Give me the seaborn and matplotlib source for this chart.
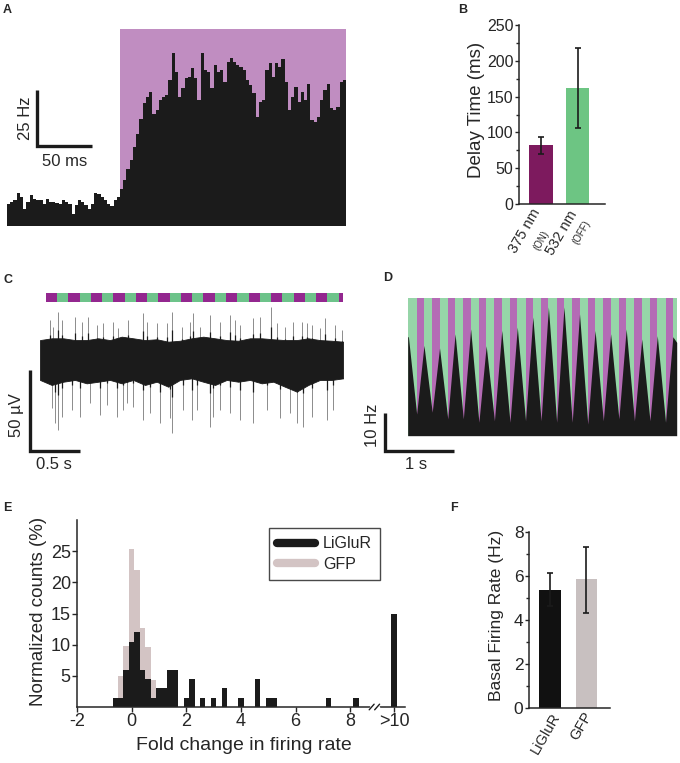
import numpy as np
import pandas as pd
import matplotlib
matplotlib.use("Agg")
import matplotlib.pyplot as plt
import seaborn as sns
from matplotlib.lines import Line2D

# ---------------- data ----------------
# A: PSTH (Hz), bin width in ms; light onset at t = 0
psth_bin_ms = 2.9
psth_pre_hz = [10.0, 10.7, 11.8, 14.7, 12.9, 7.7, 10.7, 13.7, 12.2, 11.8, 11.8, 10.0,
               12.2, 10.7, 10.7, 10.3, 9.7, 11.5, 10.7, 10.0, 5.5, 9.2, 11.8, 10.7,
               9.2, 7.7, 10.0, 14.7, 14.4, 12.9, 11.5, 9.7, 8.8, 11.8, 12.9]
psth_post_hz = [16.7, 20.4, 25.6, 29.3, 35.3, 41.2, 47.9, 54.6, 57.6, 59.8,
                50.1, 51.6, 56.1, 57.6, 58.3, 65.0, 76.9, 68.8, 57.6, 61.3,
                65.8, 66.5, 70.2, 65.8, 56.1, 76.9, 69.5, 68.8, 61.3, 71.7,
                68.8, 69.5, 64.3, 73.2, 74.7, 73.2, 71.7, 71.0, 69.5, 65.0,
                62.8, 59.1, 48.7, 55.4, 56.1, 69.5, 72.5, 66.5, 72.5, 71.0,
                74.3, 64.3, 51.6, 57.6, 62.1, 55.4, 59.8, 56.1, 63.5, 47.2,
                46.4, 48.7, 56.1, 60.6, 63.5, 52.4, 51.6, 53.1, 64.3, 65.0]

# B: delay time
delay_labels = ["375 nm", "532 nm"]
delay_sub = ["(ON)", "(OFF)"]
delay_mean = [82, 162]
delay_lo = [70, 106]
delay_hi = [93, 218]

# C: extracellular trace (envelope of the dense trace + individual spikes)
env_t = [0.0, 0.117, 0.233, 0.35, 0.467, 0.583, 0.70, 0.817, 0.933, 1.05, 1.167, 1.283,
         1.40, 1.517, 1.633, 1.75, 1.867, 1.983, 2.10, 2.217, 2.333, 2.45, 2.567, 2.683,
         2.80, 2.917, 3.033]
env_hi = [12.3, 13.4, 13.4, 12.3, 12.3, 13.4, 12.3, 14.4, 13.4, 12.3, 12.8, 11.3,
          11.9, 13.4, 14.4, 13.4, 12.3, 11.9, 13.4, 13.4, 12.8, 12.3, 12.3, 13.4,
          12.3, 11.9, 11.3]
env_lo = [-12.3, -15.4, -13.4, -12.3, -14.4, -13.4, -12.3, -14.4, -12.3, -15.4, -13.4, -16.5,
          -12.3, -11.3, -13.4, -15.4, -12.3, -13.4, -12.3, -14.4, -13.4, -16.5, -19.5, -15.4,
          -12.3, -12.3, -11.3]
spk_up_t = [0.10, 0.133, 0.183, 0.217, 0.35, 0.417, 0.483, 0.567, 0.633, 0.733, 0.783, 0.883,
            1.033, 1.067, 1.167, 1.267, 1.317, 1.417, 1.50, 1.533, 1.60, 1.70, 1.80, 1.90,
            1.95, 2.00, 2.133, 2.20, 2.307, 2.367, 2.45, 2.533, 2.617, 2.667, 2.717, 2.80,
            2.85, 2.95, 3.017]
spk_up_uv = [24.7, 20.6, 29.8, 24.7, 26.7, 23.7, 26.7, 21.6, 22.6, 23.7, 19.5, 24.7,
             28.8, 23.7, 22.6, 22.6, 29.8, 20.6, 23.7, 28.8, 20.6, 27.8, 23.7, 27.8,
             24.7, 21.6, 25.7, 26.7, 32.9, 22.6, 20.6, 23.7, 23.7, 22.6, 21.6, 19.5,
             25.7, 21.6, 18.5]
spk_dn_t = [0.117, 0.15, 0.183, 0.217, 0.317, 0.40, 0.50, 0.60, 0.667, 0.767, 0.833, 0.867,
            0.933, 1.033, 1.10, 1.20, 1.30, 1.317, 1.433, 1.517, 1.567, 1.70, 1.733, 1.80,
            1.90, 2.00, 2.133, 2.267, 2.40, 2.50, 2.567, 2.633, 2.717, 2.867, 2.933, 3.033]
spk_dn_uv = [-29.8, -39.1, -43.2, -35.0, -30.9, -35.0, -26.7, -34.0, -27.8, -35.0, -30.9, -26.7,
             -28.8, -37.0, -32.9, -39.1, -36.0, -45.3, -30.9, -37.0, -30.9, -41.2, -35.0, -30.9,
             -32.9, -37.0, -39.1, -30.9, -36.0, -32.9, -39.1, -41.2, -35.0, -37.0, -30.9, -18.5]
c_stim_start = 0.057   # s
c_stim_half = 0.1127   # s, each colour segment
c_n_segments = 27

# D: light-driven PSTH (Hz)
d_on_first = 0.130
d_period = 0.2255
d_on_dur = 0.106
d_n_cycles = 17
d_t_end = 3.90
d_peak_hz = [26.5, 24.2, 23.5, 27.3, 28.6, 24.1, 28.2, 29.1, 31.8, 34.5, 34.5, 32.6,
             28.2, 27.3, 28.6, 25.9, 26.8, 26.5]
d_trough_hz = [5.8, 6.3, 4.5, 4.5, 3.6, 4.0, 3.6, 4.0, 4.0, 3.6, 3.6, 3.1, 4.0, 4.5,
               4.0, 4.0, 3.6]
d_end_hz = 25.0

# E: histogram of fold change (bin width 0.2)
lig_centers = [-0.6, -0.4, -0.2, 0.0, 0.2, 0.4, 0.6, 0.8, 1.0, 1.2, 1.4, 1.6, 2.0, 2.2,
               2.6, 3.0, 3.4, 4.0, 4.6, 5.0, 5.2, 7.2, 8.2, 9.6]
lig_pct = [1.5, 1.5, 6.0, 10.5, 12.0, 6.0, 4.5, 1.5, 3.0, 3.0, 6.0, 6.0, 1.5, 4.5,
           1.5, 1.5, 3.0, 1.5, 4.5, 1.5, 1.5, 1.5, 1.5, 15.0]
gfp_centers = [-0.4, -0.2, 0.0, 0.2, 0.4, 0.6, 0.8]
gfp_pct = [5.0, 9.8, 25.3, 22.0, 12.7, 9.6, 4.4]
e_xticks = [-2, 0, 2, 4, 6, 8, 9.6]
e_xticklabels = ["-2", "0", "2", "4", "6", "8", ">10"]

# F: basal firing rate
basal_labels = ["LiGluR", "GFP"]
basal_mean = [5.35, 5.83]
basal_lo = [4.64, 4.29]
basal_hi = [6.11, 7.29]

# ---------------- style ----------------
sns.set_theme(style="ticks")
plt.rcParams['font.family'] = ['Liberation Sans', 'DejaVu Sans']
plt.rcParams['axes.linewidth'] = 1.1
plt.rcParams['xtick.major.width'] = 1.0
plt.rcParams['ytick.major.width'] = 1.0

W, H = 680, 763
fig = plt.figure(figsize=(6.8, 7.63), dpi=100)


def ax_px(l, t, r, b):
    return fig.add_axes([l / W, 1 - b / H, (r - l) / W, (b - t) / H])


def P(x, y):
    return x / W, 1 - y / H


BLACK = "#1b1b1b"
# panel letters
for lab, (x, y) in zip("ABCDEF", [(3, 4), (458, 4), (3, 274), (383, 272), (3, 502), (450, 502)]):
    fig.text(*P(x, y), lab, fontsize=9, fontweight="bold", ha="left", va="top")

# ---------------- A ----------------
axA = ax_px(7, 29, 346, 226)
n_pre = len(psth_pre_hz)
rates = psth_pre_hz + psth_post_hz
edges = (np.arange(len(rates) + 1) - n_pre) * psth_bin_ms
centers = (edges[:-1] + edges[1:]) / 2
dfA = pd.DataFrame({"t": centers, "rate": rates})
axA.axvspan(0, edges[-1], color="#C08DC1", lw=0, zorder=0)
sns.histplot(data=dfA, x="t", weights="rate", bins=list(edges), element="step", fill=True,
             color=BLACK, alpha=1, linewidth=0, ax=axA, zorder=2)
axA.set_xlim(edges[0], edges[-1])
axA.set_ylim(0, 87.8)
axA.plot([-75, -75, -25], [60.6, 35.6, 35.6], color=BLACK, lw=2.4,
         solid_joinstyle="miter", solid_capstyle="butt", clip_on=False, zorder=3)
axA.set_axis_off()
fig.text(*P(25, 118), "25 Hz", rotation=90, ha="center", va="center", fontsize=12)
fig.text(*P(65, 161), "50 ms", ha="center", va="center", fontsize=12)

# ---------------- B ----------------
axB = ax_px(519, 25, 605, 204)
sns.barplot(x=delay_labels, y=delay_mean, hue=delay_labels, palette=["#7D1A5E", "#6DC583"],
            width=0.65, saturation=1, legend=False, ax=axB, linewidth=0)
dm = np.array(delay_mean)
axB.errorbar([0, 1], dm, yerr=[dm - np.array(delay_lo), np.array(delay_hi) - dm],
             fmt="none", ecolor=BLACK, elinewidth=1.2, capsize=2.5, capthick=1.2)
axB.set_xlim(-0.6, 1.75)
axB.set_ylim(0, 250)
axB.set_yticks(np.arange(0, 251, 50))
axB.set_yticks(np.arange(25, 250, 50), minor=True)
axB.tick_params(axis="y", which="major", length=3, labelsize=11.5, pad=1)
axB.tick_params(axis="y", which="minor", length=2)
axB.tick_params(axis="x", length=0, labelbottom=False)
axB.set_xlabel("")
axB.set_ylabel("")
sns.despine(ax=axB)
fig.text(*P(477, 110), "Delay Time (ms)", rotation=90, ha="center", va="center", fontsize=13.5)
for (cx, cy), txt in zip([(525, 231), (561.5, 232.5)], delay_labels):
    fig.text(*P(cx, cy), txt, rotation=60, ha="center", va="center", fontsize=10.5)
for (cx, cy), txt in zip([(541, 240), (581.5, 232)], delay_sub):
    fig.text(*P(cx, cy), txt, rotation=60, ha="center", va="center", fontsize=7)

# ---------------- C ----------------
axC = ax_px(20, 290, 343, 460)
up_amp = np.array(spk_up_uv)
dn_amp = np.array(spk_dn_uv)
axC.vlines(spk_up_t, 0, up_amp, color="#8c8c8c", lw=0.7, zorder=1)
axC.vlines(spk_dn_t, 0, dn_amp, color="#8c8c8c", lw=0.7, zorder=1)
axC.vlines(spk_up_t, 0, up_amp * 0.62, color=BLACK, lw=0.9, zorder=2)
axC.vlines(spk_dn_t, 0, dn_amp * 0.5, color=BLACK, lw=0.9, zorder=2)
axC.fill_between(env_t, env_lo, env_hi, color=BLACK, lw=0.6, edgecolor=BLACK, zorder=3)
seg_starts = c_stim_start + np.arange(c_n_segments) * c_stim_half
seg_cols = ["#93278F" if i % 2 == 0 else "#6DC38A" for i in range(c_n_segments)]
axC.bar(seg_starts, 5.6, width=c_stim_half, bottom=35.8, align="edge", color=seg_cols, lw=0)
axC.plot([-0.105, -0.105, 0.395], [-6.2, -56.2, -56.2], color=BLACK, lw=2.4,
         solid_joinstyle="miter", solid_capstyle="butt", clip_on=False)
axC.set_xlim(-0.2, 3.03)
axC.set_ylim(-61.7, 43.2)
axC.set_axis_off()
fig.text(*P(16.5, 415), "50 µV", rotation=90, ha="center", va="center", fontsize=12)
fig.text(*P(53.5, 464.5), "0.5 s", ha="center", va="center", fontsize=12)

# ---------------- D ----------------
axD = ax_px(380, 298.3, 676.7, 455)
d_on = d_on_first + np.arange(d_n_cycles) * d_period
d_off = d_on + d_on_dur
d_top = 36.8
# background stripes: green everywhere, purple during 375 nm pulses
axD.bar([0], [d_top], width=d_t_end, align="edge", color="#96D5A8", lw=0)
axD.bar(d_on, d_top, width=d_on_dur, align="edge", color="#B46CB5", lw=0)
t_pts = [0.0, d_on_first - d_period + d_on_dur]
h_pts = [d_peak_hz[0], d_peak_hz[0]]
for k in range(d_n_cycles):
    t_pts += [d_on[k], d_off[k]]
    h_pts += [d_trough_hz[k], d_peak_hz[k + 1]]
t_pts.append(d_t_end)
h_pts.append(d_end_hz)
axD.fill_between(t_pts, 0, h_pts, color=BLACK, lw=0)
axD.plot([-0.33, -0.33, 0.67], [6.0, -4.1, -4.1], color=BLACK, lw=2.4,
         solid_joinstyle="miter", solid_capstyle="butt", clip_on=False)
axD.set_xlim((380 - 407.7) / 69, d_t_end)
axD.set_ylim((435.7 - 455) / 3.73, d_top)
axD.set_axis_off()
fig.text(*P(372, 425), "10 Hz", rotation=90, ha="center", va="center", fontsize=12)
fig.text(*P(416.5, 464.5), "1 s", ha="center", va="center", fontsize=12)

# ---------------- E ----------------
axE = ax_px(77, 520, 405, 707)
ebins = [float(v) for v in np.round(np.arange(-7, 98, 2) / 10, 1)]
GFP_C = "#D3C4C4"
dfG = pd.DataFrame({"fold": gfp_centers, "pct": gfp_pct})
dfL = pd.DataFrame({"fold": lig_centers, "pct": lig_pct})
sns.histplot(data=dfG, x="fold", weights="pct", bins=ebins, element="step", fill=True,
             color=GFP_C, alpha=1, linewidth=0, ax=axE, zorder=1)
sns.histplot(data=dfL, x="fold", weights="pct", bins=ebins, element="step", fill=True,
             color=BLACK, alpha=1, linewidth=0, ax=axE, zorder=2)
axE.set_xlim(-2, 10)
axE.set_ylim(0, 30)
axE.set_xticks(e_xticks)
axE.set_xticklabels(e_xticklabels)
axE.set_yticks([5, 10, 15, 20, 25])
axE.tick_params(axis="both", length=3.5, labelsize=13, pad=1)
axE.set_xlabel("")
axE.set_ylabel("")
sns.despine(ax=axE)
# axis break marks
axE.plot([8.76, 9.02], [0, 0], color="white", lw=2.5, clip_on=False, zorder=5)
for bx in (8.78, 8.98):
    axE.plot([bx - 0.09, bx + 0.09], [-0.45, 0.45], color=BLACK, lw=1.0, clip_on=False, zorder=6)
handles = [Line2D([], [], color=BLACK, lw=6), Line2D([], [], color=GFP_C, lw=6)]
leg = axE.legend(handles, ["LiGluR", "GFP"], loc="upper left", bbox_to_anchor=(0.585, 0.955),
                 frameon=True, fancybox=False, edgecolor=BLACK, fontsize=11.5,
                 handlelength=2.4, borderpad=0.5, labelspacing=0.35, handletextpad=0.5,
                 borderaxespad=0)
leg.get_frame().set_linewidth(1.0)
fig.text(*P(38.5, 611), "Normalized counts (%)", rotation=90, ha="center", va="center", fontsize=13.5)
fig.text(*P(244, 746), "Fold change in firing rate", ha="center", va="center", fontsize=14)

# ---------------- F ----------------
axF = ax_px(529, 531.7, 610, 707.7)
sns.barplot(x=basal_labels, y=basal_mean, hue=basal_labels, palette=["#111111", "#C8C0C0"],
            width=0.6, saturation=1, legend=False, ax=axF, linewidth=0)
bm = np.array(basal_mean)
axF.errorbar([0, 1], bm, yerr=[bm - np.array(basal_lo), np.array(basal_hi) - bm],
             fmt="none", ecolor=BLACK, elinewidth=1.2, capsize=2.5, capthick=1.2)
axF.set_xlim(-0.59, 1.65)
axF.set_ylim(0, 8)
axF.set_yticks([0, 2, 4, 6, 8])
axF.set_yticks([1, 3, 5, 7], minor=True)
axF.tick_params(axis="y", which="major", length=3, labelsize=12.5, pad=1)
axF.tick_params(axis="y", which="minor", length=2)
axF.tick_params(axis="x", length=0, labelbottom=False)
axF.set_xlabel("")
axF.set_ylabel("")
sns.despine(ax=axF)
fig.text(*P(496, 615), "Basal Firing Rate (Hz)", rotation=90, ha="center", va="center", fontsize=12.5)
for (cx, cy), txt in zip([(546, 733), (581.5, 726)], basal_labels):
    fig.text(*P(cx, cy), txt, rotation=60, ha="center", va="center", fontsize=10.5)

fig.savefig("out.png", dpi=100)
